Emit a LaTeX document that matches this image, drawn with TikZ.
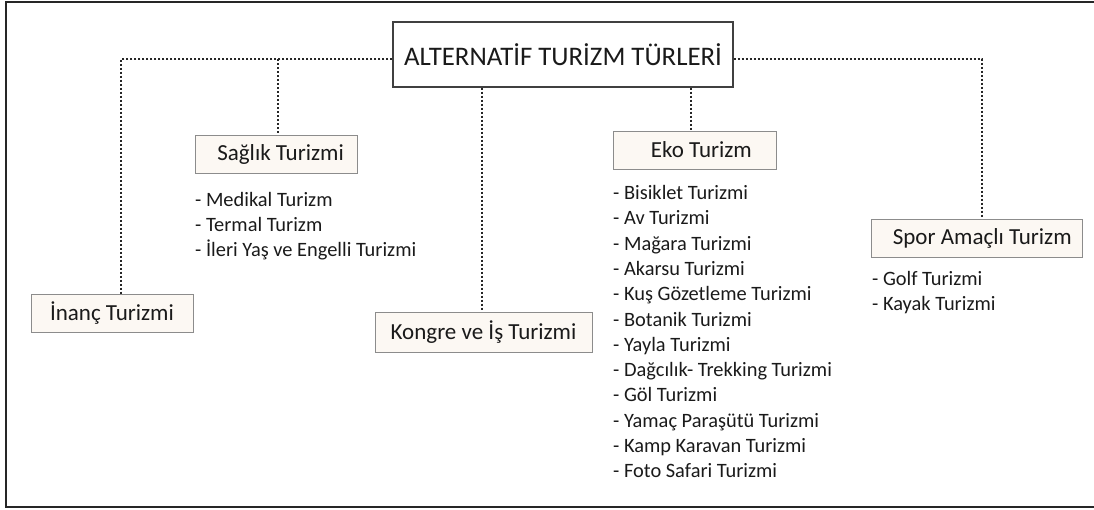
\documentclass[tikz,border=0pt]{standalone}
\usepackage{fontspec}
\setmainfont{Carlito}
\definecolor{boxfill}{HTML}{FCF8F3}
\definecolor{boxline}{HTML}{8C8C8C}
\definecolor{txt}{HTML}{1A1A1A}
\tikzset{
  catbox/.style={draw=boxline, line width=1pt, fill=boxfill, text=txt, inner sep=0pt, minimum height=38pt, font=\fontsize{23}{27}\selectfont},
  titlebox/.style={draw=black!75, line width=1.2pt, fill=white, text=txt, inner sep=0pt, font=\fontsize{26.8}{30}\selectfont},
  dotline/.style={draw=black!85, line width=2pt, dash pattern=on 2pt off 2pt},
  listtext/.style={anchor=base west, inner sep=0pt, text=txt, font=\fontsize{20.4}{24}\selectfont},
  frame/.style={draw=black!85, line width=2pt}
}
\begin{document}
\begin{tikzpicture}[x=1pt,y=-1pt]
\useasboundingbox (0,0) rectangle (1094,509);
% frame
\draw[frame] (1094,1.5) -- (6,1.5) -- (6,507) -- (1094,507);
% title
\node[titlebox, minimum width=340pt, minimum height=65pt] (title) at (563,54.5) {ALTERNATİF TURİZM TÜRLERİ};
% category boxes
\node[catbox, minimum width=162pt] (inanc) at (112,313) {İnanç Turizmi};
\node[catbox, minimum width=162pt] (saglik) at (276,154) {\hspace*{0.4em}Sağlık Turizmi};
\node[catbox, minimum width=217pt, minimum height=40pt] (kongre) at (483.5,332) {Kongre ve İş Turizmi};
\node[catbox, minimum width=163pt] (eko) at (694.5,150) {\hspace*{0.6em}Eko Turizm};
\node[catbox, minimum width=211pt] (spor) at (976.5,238) {\hspace*{0.5em}Spor Amaçlı Turizm};
% junction coordinates
\coordinate (jl) at (121,59);
\coordinate (js) at (278,59);
\coordinate (jr) at (982,59);
\coordinate (jk) at (482,0);
\coordinate (je) at (691,0);
% connectors
\draw[dotline] (title.west |- jl) -- (jl) -- (jl |- inanc.north);
\draw[dotline] (js) -- (js |- saglik.north);
\draw[dotline] (title.east |- jr) -- (jr) -- (jr |- spor.north);
\draw[dotline] (jk |- title.south) -- (jk |- kongre.north);
\draw[dotline] (je |- title.south) -- (je |- eko.north);
% lists
\foreach \t [count=\i from 0] in {Medikal Turizm, Termal Turizm, İleri Yaş ve Engelli Turizmi}
  \node[listtext] (s\i) at (195,206+25*\i) {- \t};
\foreach \t [count=\i from 0] in {Bisiklet Turizmi, Av Turizmi, Mağara Turizmi, Akarsu Turizmi, Kuş Gözetleme Turizmi, Botanik Turizmi, Yayla Turizmi, Dağcılık- Trekking Turizmi, Göl Turizmi, Yamaç Paraşütü Turizmi, Kamp Karavan Turizmi, Foto Safari Turizmi}
  \node[listtext] (e\i) at (613,199.5+25.3*\i) {- \t};
\foreach \t [count=\i from 0] in {Golf Turizmi, Kayak Turizmi}
  \node[listtext] (p\i) at (872,285.5+25*\i) {- \t};
\end{tikzpicture}
\end{document}
